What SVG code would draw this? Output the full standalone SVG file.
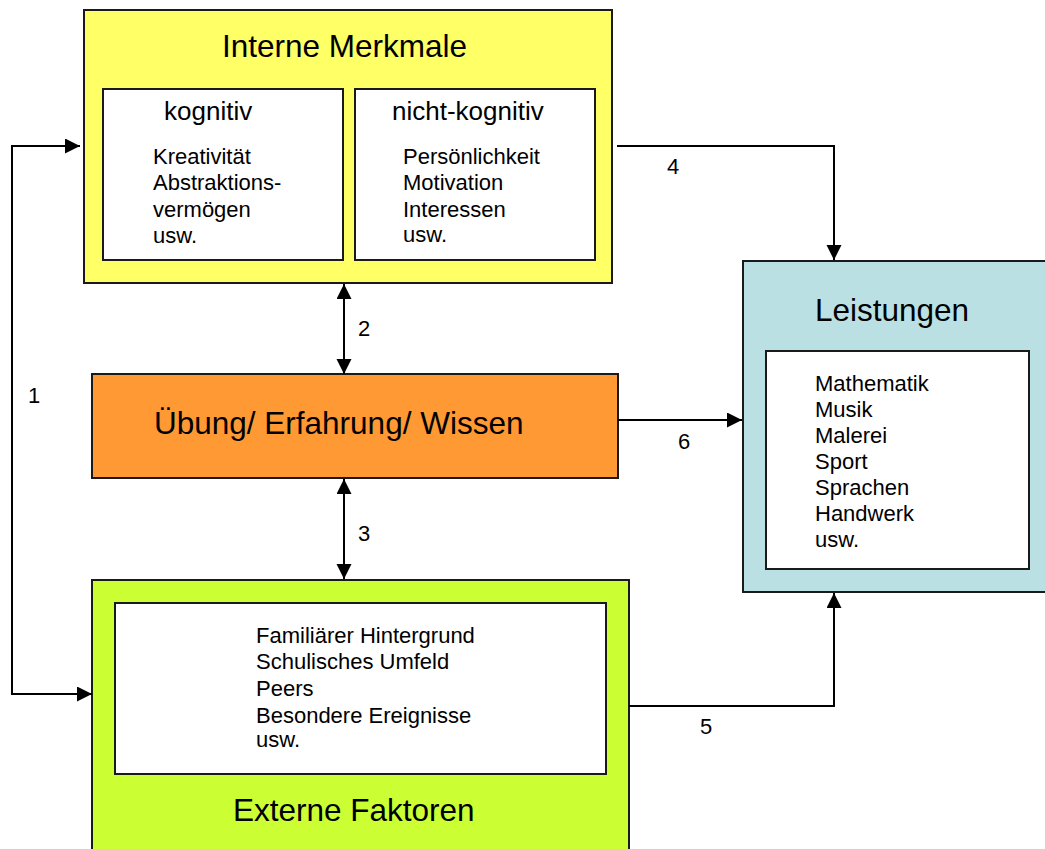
<svg xmlns="http://www.w3.org/2000/svg" width="1045" height="849" viewBox="0 0 1045 849">
  <style>
    .box { stroke: #1a1a1a; stroke-width: 2; }
    .inner { fill: #ffffff; stroke: #1a1a1a; stroke-width: 2; }
    .title { font-family: "Liberation Sans", Arial, sans-serif; font-size: 31.5px; fill: #000; }
    .sub { font-family: "Liberation Sans", Arial, sans-serif; font-size: 26px; fill: #000; }
    .item { font-family: "Liberation Sans", Arial, sans-serif; font-size: 22px; fill: #000; }
    .num { font-family: "Liberation Sans", Arial, sans-serif; font-size: 22px; fill: #000; }
    .link { fill: none; stroke: #000; stroke-width: 2; }
  </style>
  <defs>
    <marker id="arrow" markerUnits="userSpaceOnUse" markerWidth="16" markerHeight="16" refX="15" refY="7.5" orient="auto-start-reverse">
      <path d="M0,0 L15,7.5 L0,15 z" fill="#000"/>
    </marker>
  </defs>
  <rect width="1045" height="849" fill="#ffffff"/>

  <!-- internal traits -->
  <g id="interne-merkmale">
    <rect class="box" x="84" y="10" width="528" height="273" fill="#FFFF66"/>
    <text class="title" x="222" y="57">Interne Merkmale</text>
    <rect class="inner" x="103" y="89" width="240" height="171"/>
    <text class="sub" x="164" y="120">kognitiv</text>
    <text class="item" x="153" y="164">Kreativität</text>
    <text class="item" x="153" y="190">Abstraktions-</text>
    <text class="item" x="153" y="217">vermögen</text>
    <text class="item" x="153" y="243">usw.</text>
    <rect class="inner" x="355" y="89" width="240" height="171"/>
    <text class="sub" x="392" y="120">nicht-kognitiv</text>
    <text class="item" x="403" y="164">Persönlichkeit</text>
    <text class="item" x="403" y="190">Motivation</text>
    <text class="item" x="403" y="217">Interessen</text>
    <text class="item" x="403" y="242">usw.</text>
  </g>

  <!-- practice / experience / knowledge -->
  <g id="uebung">
    <rect class="box" x="92" y="374" width="526" height="104" fill="#FF9933"/>
    <text class="title" x="154" y="434">Übung/ Erfahrung/ Wissen</text>
  </g>

  <!-- external factors -->
  <g id="externe-faktoren">
    <rect class="box" x="92" y="580" width="537" height="290" fill="#CCFF33"/>
    <rect class="inner" x="115" y="603" width="491" height="171"/>
    <text class="item" x="256" y="643">Familiärer Hintergrund</text>
    <text class="item" x="256" y="669">Schulisches Umfeld</text>
    <text class="item" x="256" y="696">Peers</text>
    <text class="item" x="256" y="723">Besondere Ereignisse</text>
    <text class="item" x="256" y="747">usw.</text>
    <text class="title" x="233" y="821">Externe Faktoren</text>
  </g>

  <!-- achievements -->
  <g id="leistungen">
    <rect class="box" x="743" y="261" width="312" height="331" fill="#BBE0E3"/>
    <text class="title" x="815" y="321">Leistungen</text>
    <rect class="inner" x="766" y="351" width="263" height="218"/>
    <text class="item" x="815" y="391">Mathematik</text>
    <text class="item" x="815" y="417">Musik</text>
    <text class="item" x="815" y="443">Malerei</text>
    <text class="item" x="815" y="469">Sport</text>
    <text class="item" x="815" y="495">Sprachen</text>
    <text class="item" x="815" y="521">Handwerk</text>
    <text class="item" x="815" y="547">usw.</text>
  </g>

  <!-- connectors -->
  <g id="connectors">
    <path class="link" d="M80,146 H12 V694 H92" marker-start="url(#arrow)" marker-end="url(#arrow)"/>
    <path class="link" d="M344,284 V374" marker-start="url(#arrow)" marker-end="url(#arrow)"/>
    <path class="link" d="M344,479 V579" marker-start="url(#arrow)" marker-end="url(#arrow)"/>
    <path class="link" d="M617,146 H834 V260" marker-end="url(#arrow)"/>
    <path class="link" d="M618,420 H742" marker-end="url(#arrow)"/>
    <path class="link" d="M629,706 H834 V593" marker-end="url(#arrow)"/>
    <text class="num" x="28" y="403">1</text>
    <text class="num" x="358" y="336">2</text>
    <text class="num" x="358" y="541">3</text>
    <text class="num" x="667" y="174">4</text>
    <text class="num" x="700" y="734">5</text>
    <text class="num" x="678" y="449">6</text>
  </g>
</svg>
